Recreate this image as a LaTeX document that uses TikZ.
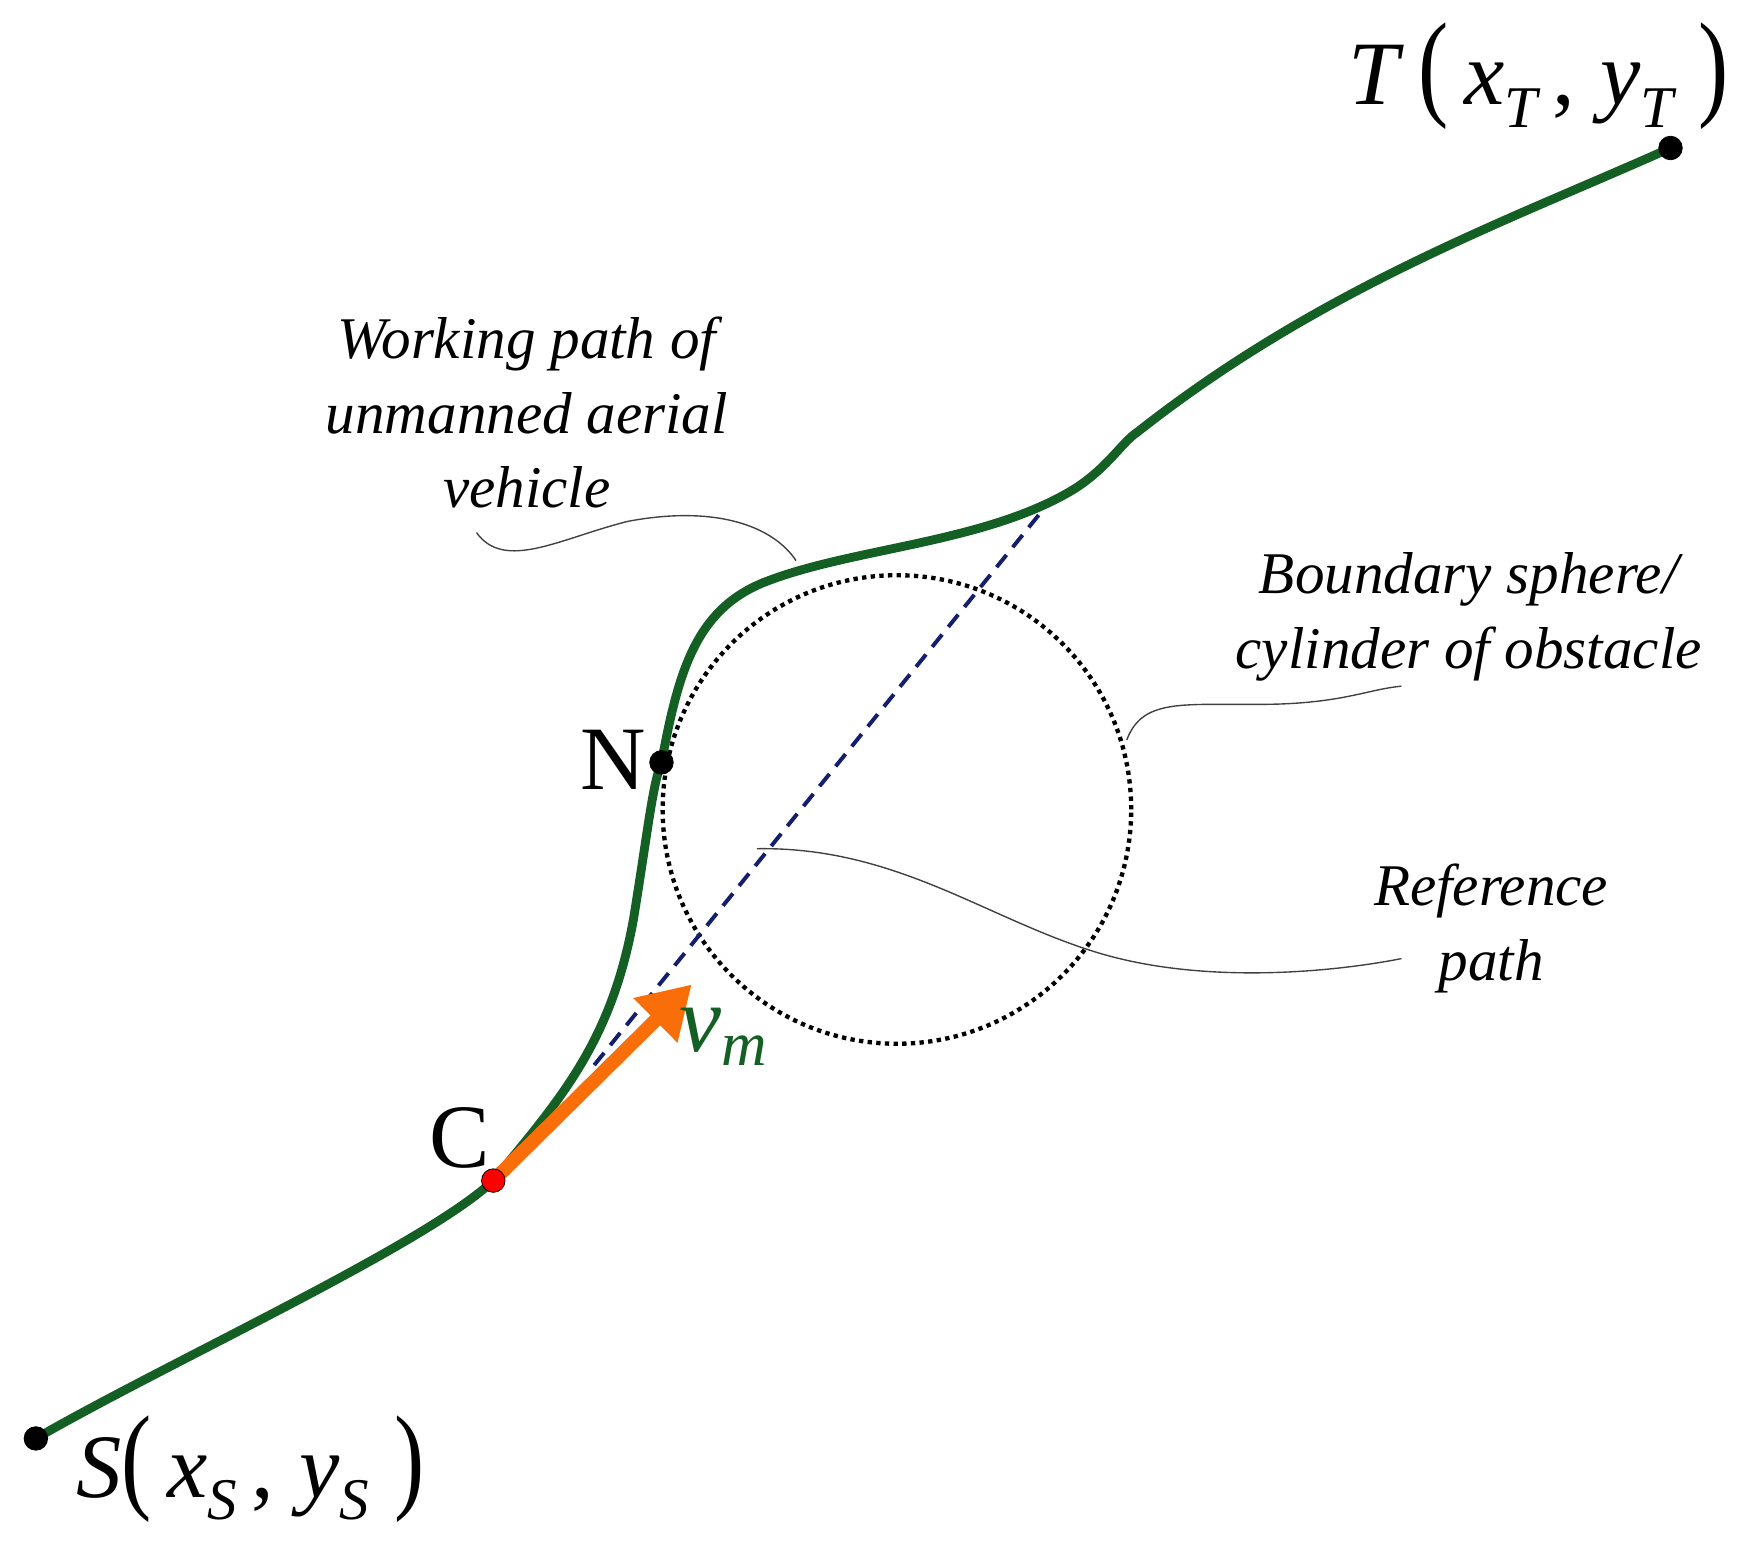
\documentclass[tikz,border=0pt]{standalone}
\usepackage{fontspec}
\setmainfont{Liberation Serif}[ItalicFont={Liberation Serif Italic}]
\usetikzlibrary{arrows.meta}
\definecolor{pathgreen}{RGB}{20,95,35}
\definecolor{refblue}{RGB}{20,30,110}
\definecolor{vorange}{RGB}{250,110,10}
\newcommand{\lowsub}[1]{\raisebox{-0.25em}{\fontsize{30}{30}\selectfont\itshape #1}}
\begin{document}
\begin{tikzpicture}[x=0.02cm,y=-0.02cm,
  dot/.style={circle,fill=black,draw=black,inner sep=0pt,minimum size=0.42cm},
  lbl/.style={font=\fontsize{30}{38}\selectfont\itshape,align=center},
  lead/.style={draw=black!75,line width=0.7pt},
  big/.style={font=\fontsize{46}{50}\selectfont}]
\useasboundingbox (0,0) rectangle (1560,1376);
% circle
\node[draw,circle,line width=2.2pt,dash pattern=on 2.2pt off 2.2pt,minimum size=8.36cm,inner sep=0pt] (O) at (800,722) {};
% reference path
\coordinate (r1) at (530,950);
\coordinate (r2) at (930,455);
\draw[refblue,line width=2pt,dash pattern=on 8pt off 5pt] (r1) -- (r2);
% points
\coordinate (S) at (32,1283);
\coordinate (C) at (440,1053);
\coordinate (N) at (590,680);
\coordinate (T) at (1490,132);
% working path
\draw[pathgreen,line width=4.5pt,line cap=round]
  (S) .. controls (150,1215) and (380,1110) .. (C)
  .. controls (500,980) and (545,930) .. (565,820)
  .. controls (578,740) and (582,700) .. (N)
  .. controls (605,600) and (620,545) .. (680,520)
  .. controls (760,488) and (880,485) .. (960,435)
  .. controls (990,415) and (1000,395) .. (1015,385)
  .. controls (1180,255) and (1350,195) .. (T);
% velocity
\coordinate (vE) at (617,878);
\draw[vorange,line width=7pt,-{Triangle[length=26pt,width=30pt]}] (C) -- (vE);
% dots
\node[dot] (Sd) at (S) {};
\node[dot] (Td) at (T) {};
\node[dot] (Nd) at (N) {};
\node[circle,fill=red,draw=black,inner sep=0pt,minimum size=0.42cm] (Cd) at (C) {};
% labels
\node[big] (Nl) at (547,678) {N};
\node[big] (Cl) at (410,1015) {C};
\node[big,anchor=west] (Sl) at (62,1310) {\textit{S}\scalebox{1}[1.3]{(}\,\textit{x}\lowsub{S}\,,\;\textit{y}\lowsub{S}\;\scalebox{1}[1.3]{)}};
\node[big,anchor=east] (Tl) at (1548,68) {\textit{T}\,\scalebox{1}[1.3]{(}\,\textit{x}\lowsub{T}\,,\;\textit{y}\lowsub{T}\;\scalebox{1}[1.3]{)}};
\node[pathgreen,font=\fontsize{48}{48}\selectfont\itshape] (vm) at (645,925) {v\raisebox{-0.15em}{\fontsize{32}{32}\selectfont\itshape m}};
\node[lbl] (wl) at (470,368) {Working path of\\unmanned aerial\\vehicle};
\node[lbl] (bl) at (1310,550) {Boundary sphere/\\cylinder of obstacle};
\node[lbl] (rl) at (1330,828) {Reference\\path};
% leaders
\coordinate (w0) at (425,475);
\coordinate (w1) at (710,500);
\draw[lead] (w0) .. controls (450,510) and (500,480) .. (560,465) .. controls (640,450) and (690,470) .. (w1);
\coordinate (b0) at (1005,660);
\coordinate (b1) at (1250,612);
\draw[lead] (b0) .. controls (1020,620) and (1060,630) .. (1140,628) .. controls (1200,626) and (1220,615) .. (b1);
\coordinate (f0) at (675,757);
\coordinate (f1) at (1250,855);
\draw[lead] (f0) .. controls (800,755) and (880,820) .. (980,850) .. controls (1080,880) and (1200,865) .. (f1);
\end{tikzpicture}
\end{document}
